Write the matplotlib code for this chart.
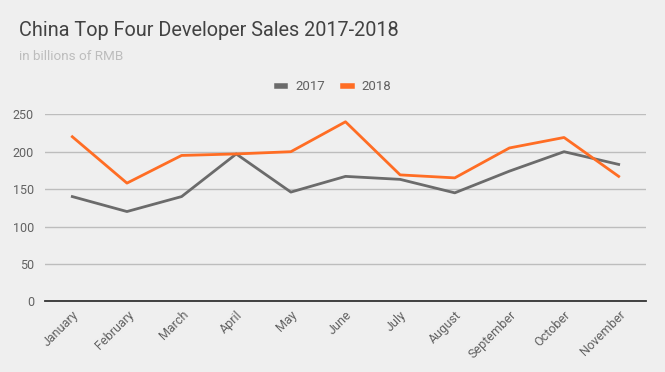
import matplotlib
matplotlib.use("Agg")
import matplotlib.pyplot as plt
from matplotlib.lines import Line2D

months = ["January", "February", "March", "April", "May", "June", "July",
          "August", "September", "October", "November"]
sales_2017 = [140, 120, 140, 197, 146, 167, 163, 145, 174, 200, 183]
sales_2018 = [220, 158, 195, 197, 200, 240, 169, 165, 205, 219, 167]
yticks = [0, 50, 100, 150, 200, 250]

c2017 = "#6b6b6b"
c2018 = "#ff6d24"
bg = "#efefef"

plt.rcParams['font.family'] = ['Roboto', 'DejaVu Sans']

fig = plt.figure(figsize=(6.65, 3.72), dpi=100, facecolor=bg)
ax = fig.add_axes([45/665, 1-301.3/372, (646-45)/665, (301.3-114.3)/372])
ax.set_facecolor(bg)

x = list(range(len(months)))
ax.plot(x, sales_2017, color=c2017, lw=2, label="2017", clip_on=False, zorder=3)
ax.plot(x, sales_2018, color=c2018, lw=2, label="2018", clip_on=False, zorder=4)

ax.set_xlim(-0.5, len(months) - 0.5)
ax.set_ylim(0, 250)
ax.set_yticks(yticks)
ax.set_yticklabels([str(v) for v in yticks])
ax.grid(axis='y', color="#bdbdbd", lw=1)
ax.set_axisbelow(True)
for s in ["top", "right", "left"]:
    ax.spines[s].set_visible(False)
ax.spines["bottom"].set_color("#333333")
ax.spines["bottom"].set_linewidth(1.3)
ax.spines["bottom"].set_zorder(5)
ax.tick_params(axis='y', length=0, pad=8, labelsize=9, labelcolor="#616161")
ax.tick_params(axis='x', length=0, pad=5, labelsize=9, labelcolor="#616161")
ax.set_xticks(x)
ax.set_xticklabels(months, rotation=45, ha='right', va='top', rotation_mode='anchor')

fig.text(19/665, 1-31/372, "China Top Four Developer Sales 2017-2018", fontsize=14.3,
         color="#424242", va='center', ha='left')
fig.text(19/665, 1-57/372, "in billions of RMB", fontsize=9.7,
         color="#bdbdbd", va='center', ha='left')

handles = [Line2D([0], [0], color=c2017, lw=4), Line2D([0], [0], color=c2018, lw=4)]
fig.legend(handles, ["2017", "2018"], loc='center', bbox_to_anchor=(334/665, 1-87/372),
           ncol=2, frameon=False, fontsize=9.5, labelcolor="#616161",
           handlelength=0.65, handletextpad=0.75, columnspacing=1.4)

fig.savefig("out.png", dpi=100, facecolor=bg)
